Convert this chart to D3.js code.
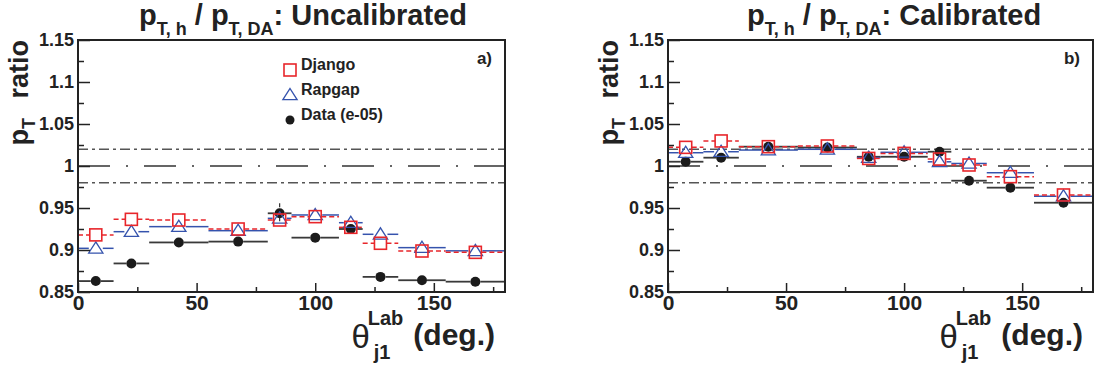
<!DOCTYPE html>
<html><head><meta charset="utf-8">
<script src="https://cdn.jsdelivr.net/npm/d3@7/dist/d3.min.js"></script>
<style>
body{margin:0;background:#fff;}
svg text{font-family:"Liberation Sans",Arial,sans-serif;white-space:pre;}
</style></head>
<body><svg id="c" width="1094" height="371"></svg>
<script>
// ---- data ----
const binEdges   = [0,15,30,55,80,90,110,120,135,155,180];
const binCenters = [7.5,22.5,42.5,67.5,85,100,115,127.5,145,167.5];

const uncalDjango = [0.918,0.9365,0.9357,0.925,0.9357,0.9397,0.927,0.908,0.8988,0.8972];
const uncalRapgap = [0.902,0.9218,0.9278,0.923,0.9377,0.9417,0.9325,0.9187,0.9028,0.899];
const uncalData   = [0.863,0.884,0.909,0.910,0.9437,0.9147,0.925,0.868,0.864,0.8623];
const uncalDataErr= [0.002,0.002,0.002,0.002,0.012,0.002,0.003,0.003,0.004,0.002];

const calDjango = [1.0222,1.0298,1.023,1.0238,1.009,1.015,1.0083,1.0012,0.9873,0.9655];
const calRapgap = [1.0158,1.017,1.019,1.0199,1.010,1.0163,1.005,1.003,0.992,0.964];
const calData   = [1.0051,1.0099,1.023,1.022,1.011,1.011,1.017,0.9825,0.9742,0.9563];
const calDataErr= [0.002,0.002,0.002,0.002,0.002,0.002,0.003,0.003,0.003,0.002];

const yMajorTicks = [0.85,0.9,0.95,1,1.05,1.1,1.15];
const yMinorTicks = [0.875,0.925,0.975,1.025,1.075,1.125];
const xMajorTicks = [0,50,100,150];
const xMinorTicks = [25,75,125,175];
const refLines = [1.02,1.0,0.98];
const legendLabels = ["Django","Rapgap","Data (e-05)"];

const svg = d3.select("#c");
const C_RED = "#e8262b", C_BLUE = "#3553ad", C_DATA = "#1b1b1b";

function panel(opts){
  const {x0,x1,titleSuffix,titleX,tag,django,rapgap,data,dataErr,legend,yLabX} = opts;
  const yTop=40, yBot=292;
  const x = d3.scaleLinear().domain([0,180]).range([x0,x1]);
  const y = d3.scaleLinear().domain([0.85,1.15]).range([yBot,yTop]);
  const g = svg.append("g");

  refLines.forEach(v=>{
    g.append("line").attr("x1",x0).attr("x2",x1).attr("y1",y(v)).attr("y2",y(v))
      .attr("stroke", v===1?"#333":"#555").attr("stroke-width",1.4)
      .attr("stroke-dasharray", v===1?"32,16,2,16":"10,4,3,4");
  });

  function hbars(vals,color,dash,gap,w){
    vals.forEach((v,i)=>{
      const cx=x(binCenters[i]), yy=y(v);
      const segs=[[x(binEdges[i]),cx-gap],[cx+gap,x(binEdges[i+1])]];
      segs.forEach(s=>{ if(s[1]>s[0]) g.append("line").attr("x1",s[0]).attr("x2",s[1])
        .attr("y1",yy).attr("y2",yy).attr("stroke",color).attr("stroke-width",w)
        .attr("stroke-dasharray",dash);});
    });
  }
  hbars(data,"#3a3a3a",null,5,1.8);
  data.forEach((v,i)=>{
    const e=dataErr[i]; if(y(v-e)-y(v+e)>10){
      g.append("line").attr("x1",x(binCenters[i])).attr("x2",x(binCenters[i]))
       .attr("y1",y(v+e)).attr("y2",y(v-e)).attr("stroke","#333").attr("stroke-width",1.2)
       .attr("stroke-dasharray","4,3");
    }
  });
  hbars(rapgap,C_BLUE,null,7,1.5);
  hbars(django,C_RED,"5,3",6,1.5);

  const tri = d3.symbol().type(d3.symbolTriangle).size(80);
  data.forEach((v,i)=>g.append("circle").attr("cx",x(binCenters[i])).attr("cy",y(v)).attr("r",5).attr("fill",C_DATA));
  rapgap.forEach((v,i)=>g.append("path").attr("d",tri())
     .attr("transform",`translate(${x(binCenters[i])},${y(v)+1}) scale(1.05,0.95)`)
     .attr("fill","none").attr("stroke",C_BLUE).attr("stroke-width",1.3));
  django.forEach((v,i)=>g.append("rect").attr("x",x(binCenters[i])-6).attr("y",y(v)-6)
     .attr("width",12).attr("height",12).attr("fill","none").attr("stroke",C_RED).attr("stroke-width",1.6));

  const ax = g.append("g");
  const yMaj = ax.append("g").attr("transform",`translate(${x0},0)`)
    .call(d3.axisLeft(y).tickValues(yMajorTicks).tickSizeInner(-12).tickSizeOuter(0).tickPadding(4)
      .tickFormat(d=>String(+d.toFixed(3))));
  ax.append("g").attr("transform",`translate(${x0},0)`)
    .call(d3.axisLeft(y).tickValues(yMinorTicks).tickSizeInner(-6).tickSizeOuter(0).tickFormat(""));
  const xMaj = ax.append("g").attr("transform",`translate(0,${yBot})`)
    .call(d3.axisBottom(x).tickValues(xMajorTicks).tickSizeInner(-9).tickSizeOuter(0).tickPadding(4));
  ax.append("g").attr("transform",`translate(0,${yBot})`)
    .call(d3.axisBottom(x).tickValues(xMinorTicks).tickSizeInner(-5).tickSizeOuter(0).tickFormat(""));
  ax.selectAll("path.domain").remove();
  ax.selectAll(".tick line").attr("stroke","#222").attr("stroke-width",1.5);
  ax.selectAll(".tick text").attr("font-weight","bold").attr("fill","#222");
  yMaj.attr("font-size",18).attr("font-family",null);
  xMaj.attr("font-size",21).attr("font-family",null);
  xMaj.selectAll("text").attr("y",3).attr("dy","0.71em");

  g.append("rect").attr("x",x0).attr("y",yTop).attr("width",x1-x0).attr("height",yBot-yTop)
    .attr("fill","none").attr("stroke","#222").attr("stroke-width",2);

  const t = svg.append("text").attr("x",titleX).attr("y",25).attr("font-weight","bold")
     .attr("font-size",29).attr("fill","#222");
  t.append("tspan").text("p");
  t.append("tspan").attr("font-size",18).attr("dy",10).text("T, h");
  t.append("tspan").attr("dy",-10).text(" / p");
  t.append("tspan").attr("font-size",18).attr("dy",10).text("T, DA");
  t.append("tspan").attr("dy",-10).text(": "+titleSuffix);

  const yl = svg.append("text").attr("transform",`translate(${yLabX},${yTop}) rotate(-90)`)
     .attr("text-anchor","end").attr("font-weight","bold").attr("font-size",27).attr("fill","#222");
  yl.append("tspan").text("p");
  yl.append("tspan").attr("font-size",18).attr("dy",7).text("T");
  yl.append("tspan").attr("dy",-7).attr("dx",12).text(" ratio");

  const xEnd = x1-10;
  const dg = svg.append("text").attr("x",xEnd).attr("y",345).attr("text-anchor","end")
     .attr("font-weight","bold").attr("font-size",30).attr("fill","#222").text("(deg.)");
  const S = xEnd - dg.node().getComputedTextLength();
  const lab = svg.append("text").attr("x",S-10).attr("y",325).attr("text-anchor","end")
     .attr("font-weight","bold").attr("font-size",20).attr("fill","#222").text("Lab");
  const labStart = S-10-lab.node().getComputedTextLength();
  svg.append("text").attr("x",labStart+6).attr("y",359)
     .attr("font-weight","bold").attr("font-size",20).attr("fill","#222").text("j1");
  svg.append("text").attr("x",labStart+2).attr("y",348).attr("text-anchor","end")
     .attr("font-family","Liberation Serif, DejaVu Serif, serif").attr("font-size",33).attr("fill","#222").text("θ");

  svg.append("text").attr("x",x1-13).attr("y",64).attr("text-anchor","end")
     .attr("font-weight","bold").attr("font-size",17).attr("fill","#222").text(tag);

  if(legend){
    const lx=290, ly=[70,95,120];
    svg.append("rect").attr("x",lx-6).attr("y",ly[0]-6).attr("width",12).attr("height",12)
      .attr("fill","none").attr("stroke",C_RED).attr("stroke-width",1.6);
    svg.append("path").attr("d",tri()).attr("transform",`translate(${lx},${ly[1]+1}) scale(1.05,0.95)`)
      .attr("fill","none").attr("stroke",C_BLUE).attr("stroke-width",1.3);
    svg.append("circle").attr("cx",lx).attr("cy",ly[2]).attr("r",4.5).attr("fill",C_DATA);
    legendLabels.forEach((s,i)=>svg.append("text").attr("x",301).attr("y",ly[i])
      .attr("font-weight","bold").attr("font-size",16).attr("fill","#222").text(s));
  }
}

panel({x0:78,x1:505,titleSuffix:"Uncalibrated",titleX:139,tag:"a)",
  django:uncalDjango,rapgap:uncalRapgap,data:uncalData,dataErr:uncalDataErr,legend:true,yLabX:28});
panel({x0:668,x1:1093,titleSuffix:"Calibrated",titleX:747,tag:"b)",
  django:calDjango,rapgap:calRapgap,data:calData,dataErr:calDataErr,legend:false,yLabX:618});
</script></body></html>
